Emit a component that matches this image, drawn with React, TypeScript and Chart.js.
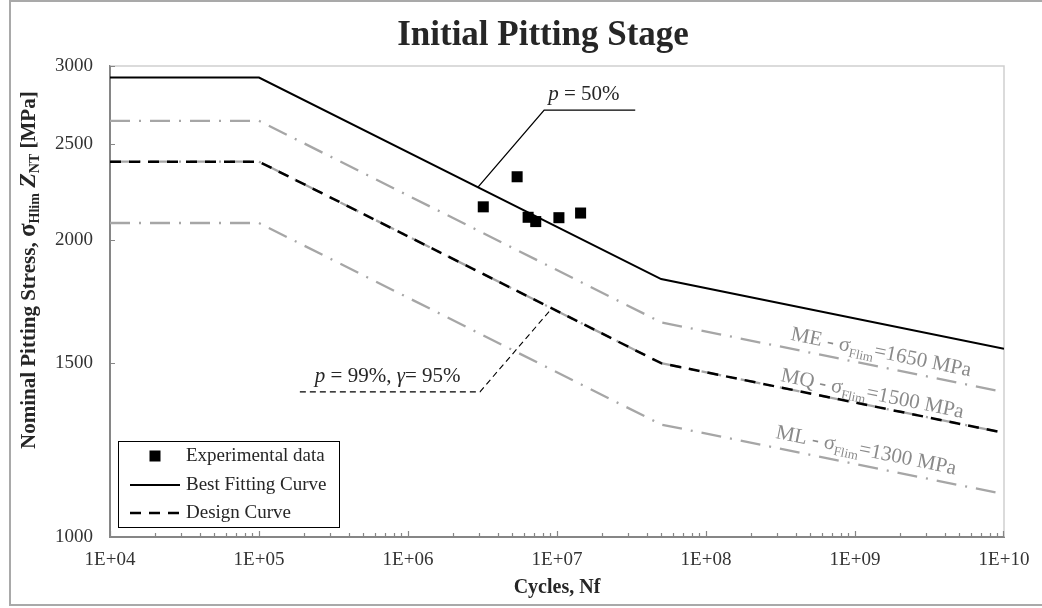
import React, { useEffect, useRef } from 'react';
import { Chart, registerables } from 'chart.js';

Chart.register(...registerables);

// ---------- data ----------
const curveCycles = [1e4, 1e5, 5e7, 1e10];
const bestFitStress = [2920, 2920, 1825, 1551];
const designStress = [2400, 2400, 1500, 1275];
const meStress = [2640, 2640, 1650, 1402];
const mqStress = [2400, 2400, 1500, 1275];
const mlStress = [2080, 2080, 1300, 1105];

const expCycles = [3.2e6, 5.4e6, 6.4e6, 7.2e6, 1.03e7, 1.44e7];
const expStress = [2160, 2317, 2108, 2087, 2106, 2129];

const p50LeaderCycles = [2.95e6, 8.2e6, 3.35e7];
const p50LeaderStress = [2262, 2707, 2707];
const p99LeaderCycles = [1.88e5, 3.04e6, 9.25e6];
const p99LeaderStress = [1403, 1403, 1705];

const xTickValues = [1e4, 1e5, 1e6, 1e7, 1e8, 1e9, 1e10];
const xTickLabels = ['1E+04', '1E+05', '1E+06', '1E+07', '1E+08', '1E+09', '1E+10'];
const yTickValues = [1000, 1500, 2000, 2500, 3000];
const yTickLabels = ['1000', '1500', '2000', '2500', '3000'];

const legendLabels = ['Experimental data', 'Best Fitting Curve', 'Design Curve'];
const materialGrades = ['ME', 'MQ', 'ML'];
const materialLimits = ['1650', '1500', '1300'];

// ---------- styling ----------
const SERIF = '"Liberation Serif", "Times New Roman", serif';
const GRAY_CURVE = '#a6a6a6';
const GRAY_TEXT = '#8a8a8a';
const AXIS = '#868686';
const TEXT = '#262626';

const pts = (xs: number[], ys: number[]) => xs.map((x, i) => ({ x, y: ys[i] }));

type Run = { text: string; font: string; dy?: number };
function drawRuns(ctx: CanvasRenderingContext2D, runs: Run[], x: number, y: number) {
  let cx = x;
  for (const r of runs) {
    ctx.font = r.font;
    ctx.fillText(r.text, cx, y + (r.dy || 0));
    cx += ctx.measureText(r.text).width;
  }
}

const decorPlugin = {
  id: 'decor',
  beforeDraw(chart: any) {
    const ctx = chart.ctx as CanvasRenderingContext2D;
    ctx.save();
    ctx.fillStyle = '#ffffff';
    ctx.fillRect(0, 0, chart.width, chart.height);
    // outer frame
    ctx.strokeStyle = '#a9a9a9';
    ctx.lineWidth = 2;
    ctx.beginPath();
    ctx.moveTo(chart.width + 5, 1);
    ctx.lineTo(10, 1);
    ctx.lineTo(10, 605);
    ctx.lineTo(chart.width + 5, 605);
    ctx.stroke();
    ctx.restore();
  },
  beforeDatasetsDraw(chart: any) {
    const ctx = chart.ctx as CanvasRenderingContext2D;
    const a = chart.chartArea;
    ctx.save();
    ctx.strokeStyle = '#cfcfcf';
    ctx.lineWidth = 1.5;
    ctx.beginPath();
    ctx.moveTo(a.left, a.top);
    ctx.lineTo(a.right, a.top);
    ctx.lineTo(a.right, a.bottom);
    ctx.stroke();
    ctx.restore();
  },
  afterDraw(chart: any) {
    const ctx = chart.ctx as CanvasRenderingContext2D;
    const a = chart.chartArea;
    const xs = chart.scales.x;
    const ys = chart.scales.y;
    ctx.save();

    // inward ticks
    ctx.strokeStyle = AXIS;
    ctx.lineWidth = 1.2;
    ctx.beginPath();
    for (let d = 4; d < 10; d++) {
      for (let m = 1; m <= 9; m++) {
        const v = m * Math.pow(10, d);
        const px = Math.round(xs.getPixelForValue(v)) + 0.5;
        const len = m === 1 ? 6 : 4;
        ctx.moveTo(px, a.bottom);
        ctx.lineTo(px, a.bottom - len);
      }
    }
    const lastPx = Math.round(xs.getPixelForValue(1e10)) - 0.5;
    ctx.moveTo(lastPx, a.bottom);
    ctx.lineTo(lastPx, a.bottom - 6);
    for (const v of yTickValues) {
      const py = Math.round(ys.getPixelForValue(v)) + 0.5;
      ctx.moveTo(a.left, py);
      ctx.lineTo(a.left + 5, py);
    }
    ctx.stroke();

    // chart title
    ctx.fillStyle = TEXT;
    ctx.textAlign = 'center';
    ctx.textBaseline = 'alphabetic';
    ctx.font = `bold 35px ${SERIF}`;
    ctx.fillText('Initial Pitting Stage', 543, 45);

    // y axis title (with subscripts)
    ctx.save();
    ctx.translate(35, 449);
    ctx.rotate(-Math.PI / 2);
    ctx.textAlign = 'left';
    ctx.fillStyle = TEXT;
    drawRuns(ctx, [
      { text: 'Nominal Pitting Stress, ', font: `bold 21px ${SERIF}` },
      { text: 'σ', font: `bold 25px ${SERIF}` },
      { text: 'Hlim', font: `bold 14px ${SERIF}`, dy: 4 },
      { text: ' ', font: `bold 21px ${SERIF}` },
      { text: 'Z', font: `italic bold 24px ${SERIF}` },
      { text: 'NT', font: `bold 14px ${SERIF}`, dy: 4 },
      { text: ' [MPa]', font: `bold 21px ${SERIF}` },
    ], 0, 0);
    ctx.restore();

    // p = 50% annotation
    ctx.textAlign = 'left';
    ctx.fillStyle = TEXT;
    {
      const x0 = xs.getPixelForValue(p50LeaderCycles[1]) + 4;
      const y0 = ys.getPixelForValue(p50LeaderStress[1]) - 10;
      drawRuns(ctx, [
        { text: 'p', font: `italic 21px ${SERIF}` },
        { text: ' = 50%', font: `21px ${SERIF}` },
      ], x0, y0);
    }
    // p = 99%, γ = 95% annotation
    {
      const x0 = xs.getPixelForValue(p99LeaderCycles[0]) + 15;
      const y0 = ys.getPixelForValue(p99LeaderStress[0]) - 10;
      drawRuns(ctx, [
        { text: 'p', font: `italic 21px ${SERIF}` },
        { text: ' = 99%, ', font: `21px ${SERIF}` },
        { text: 'γ', font: `italic 21px ${SERIF}` },
        { text: '= 95%', font: `21px ${SERIF}` },
      ], x0, y0);
    }

    // material grade labels along the curves
    const gradeCurves = [meStress, mqStress, mlStress];
    const anchorCycles = [3.66e8, 3.14e8, 2.9e8];
    const anchorStress = [1584, 1439, 1260];
    ctx.fillStyle = GRAY_TEXT;
    gradeCurves.forEach((c, i) => {
      const x1 = xs.getPixelForValue(curveCycles[2]);
      const y1 = ys.getPixelForValue(c[2]);
      const x2 = xs.getPixelForValue(curveCycles[3]);
      const y2 = ys.getPixelForValue(c[3]);
      const ang = Math.atan2(y2 - y1, x2 - x1);
      ctx.save();
      ctx.translate(xs.getPixelForValue(anchorCycles[i]), ys.getPixelForValue(anchorStress[i]));
      ctx.rotate(ang);
      drawRuns(ctx, [
        { text: `${materialGrades[i]} - σ`, font: `21px ${SERIF}` },
        { text: 'Flim', font: `13px ${SERIF}`, dy: 5 },
        { text: `=${materialLimits[i]} MPa`, font: `21px ${SERIF}` },
      ], 0, 0);
      ctx.restore();
    });

    // legend box
    const lx = a.left + 8;
    const lb = a.bottom - 10;
    const lw = 221;
    const lh = 86;
    const ly = lb - lh;
    ctx.fillStyle = '#ffffff';
    ctx.fillRect(lx, ly, lw, lh);
    ctx.strokeStyle = '#000000';
    ctx.lineWidth = 1;
    ctx.strokeRect(lx + 0.5, ly + 0.5, lw, lh);
    const rowY = [ly + 15, ly + 44, ly + 72];
    const ds = chart.data.datasets;
    // marker
    ctx.fillStyle = ds[0].pointBackgroundColor;
    ctx.fillRect(lx + 37 - 5.5, rowY[0] - 5.5, 11, 11);
    // solid line
    ctx.strokeStyle = ds[1].borderColor;
    ctx.lineWidth = ds[1].borderWidth;
    ctx.beginPath();
    ctx.moveTo(lx + 12, rowY[1]);
    ctx.lineTo(lx + 62, rowY[1]);
    ctx.stroke();
    // dashed line
    ctx.strokeStyle = ds[2].borderColor;
    ctx.lineWidth = ds[2].borderWidth;
    ctx.setLineDash(ds[2].borderDash);
    ctx.beginPath();
    ctx.moveTo(lx + 12, rowY[2]);
    ctx.lineTo(lx + 62, rowY[2]);
    ctx.stroke();
    ctx.setLineDash([]);
    ctx.fillStyle = TEXT;
    ctx.font = `19px ${SERIF}`;
    ctx.textBaseline = 'middle';
    legendLabels.forEach((t, i) => ctx.fillText(t, lx + 68, rowY[i]));

    ctx.restore();
  },
};

export default function App() {
  const canvasRef = useRef<HTMLCanvasElement | null>(null);

  useEffect(() => {
    const canvas = canvasRef.current;
    if (!canvas) return;
    const grayLine = (label: string, ys: number[]) => ({
      label,
      data: pts(curveCycles, ys),
      borderColor: GRAY_CURVE,
      backgroundColor: GRAY_CURVE,
      borderWidth: 2.3,
      borderDash: [20, 9, 2, 9],
      pointRadius: 0,
      fill: false,
      tension: 0,
    });
    const chart = new Chart(canvas, {
      type: 'line',
      data: {
        datasets: [
          {
            label: legendLabels[0],
            data: pts(expCycles, expStress),
            showLine: false,
            pointStyle: 'rect',
            pointRadius: 7.8,
            pointBorderWidth: 0,
            pointBackgroundColor: '#000000',
            borderColor: '#000000',
            backgroundColor: '#000000',
          },
          {
            label: legendLabels[1],
            data: pts(curveCycles, bestFitStress),
            borderColor: '#000000',
            backgroundColor: '#000000',
            borderWidth: 2,
            pointRadius: 0,
            fill: false,
          },
          {
            label: legendLabels[2],
            data: pts(curveCycles, designStress),
            borderColor: '#000000',
            backgroundColor: '#000000',
            borderWidth: 2.5,
            borderDash: [11, 8],
            pointRadius: 0,
            fill: false,
          },
          {
            label: 'p = 50% leader',
            data: pts(p50LeaderCycles, p50LeaderStress),
            borderColor: '#000000',
            borderWidth: 1.3,
            pointRadius: 0,
            fill: false,
          },
          {
            label: 'p = 99% leader',
            data: pts(p99LeaderCycles, p99LeaderStress),
            borderColor: '#000000',
            borderWidth: 1.1,
            borderDash: [6, 4],
            pointRadius: 0,
            fill: false,
          },
          grayLine('ME', meStress),
          grayLine('MQ', mqStress),
          grayLine('ML', mlStress),
        ],
      },
      options: {
        animation: false,
        responsive: false,
        maintainAspectRatio: false,
        layout: { padding: { left: 0, top: 66, right: 38, bottom: 0 } },
        plugins: {
          legend: { display: false },
          tooltip: { enabled: false },
          title: { display: false },
        },
        scales: {
          x: {
            type: 'logarithmic',
            position: 'bottom',
            min: 1e4,
            max: 1e10,
            grid: { display: false, drawTicks: false },
            border: { display: true, color: AXIS, width: 2 },
            afterBuildTicks: (axis: any) => {
              axis.ticks = xTickValues.map((v) => ({ value: v }));
            },
            afterFit: (axis: any) => {
              axis.height = 71;
            },
            ticks: {
              autoSkip: false,
              maxRotation: 0,
              padding: 12,
              color: '#333333',
              font: { family: SERIF, size: 19 },
              callback: (_v: any, i: number) => xTickLabels[i],
            },
            title: {
              display: true,
              text: 'Cycles, Nf',
              color: TEXT,
              font: { family: SERIF, size: 20, weight: 'bold' },
              padding: { top: 0, bottom: 8 },
            },
          },
          y: {
            type: 'logarithmic',
            position: 'left',
            min: 1000,
            max: 3000,
            grid: { display: false, drawTicks: false },
            border: { display: true, color: AXIS, width: 2 },
            afterBuildTicks: (axis: any) => {
              axis.ticks = yTickValues.map((v) => ({ value: v }));
            },
            afterFit: (axis: any) => {
              axis.width = 110;
            },
            ticks: {
              autoSkip: false,
              padding: 17,
              color: '#333333',
              font: { family: SERIF, size: 19 },
              callback: (_v: any, i: number) => yTickLabels[i],
            },
          },
        },
      } as any,
      plugins: [decorPlugin],
    });
    return () => chart.destroy();
  }, []);

  return (
    <div style={{ position: 'fixed', left: 0, top: 0, width: 1042, height: 608, background: '#fff' }}>
      <canvas ref={canvasRef} width={1042} height={608} style={{ display: 'block', width: 1042, height: 608 }} />
    </div>
  );
}
